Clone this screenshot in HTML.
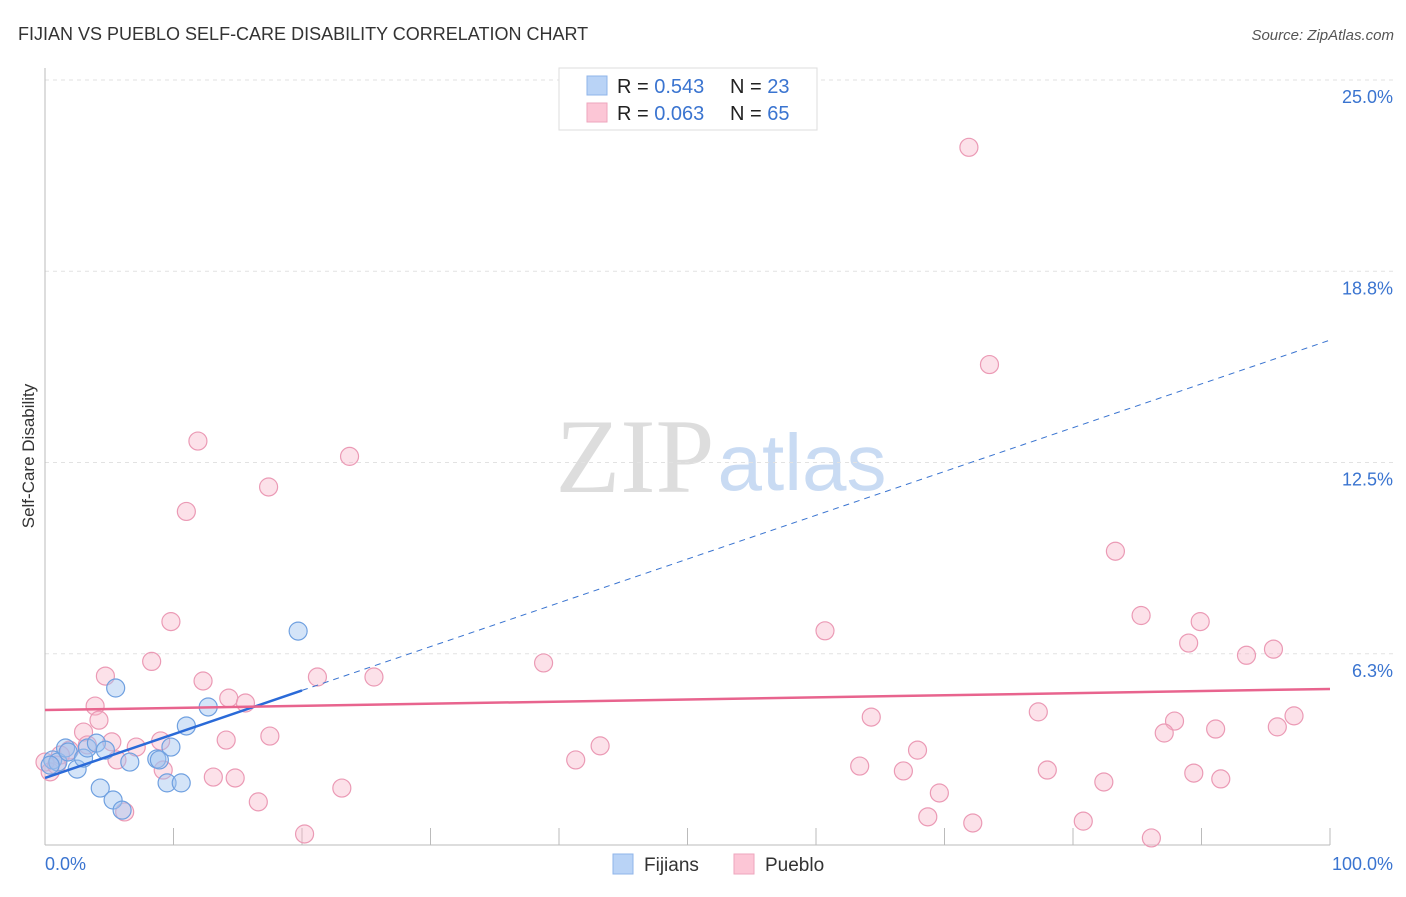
<!DOCTYPE html>
<html><head><meta charset="utf-8"><style>
body{margin:0;background:#fff;font-family:"Liberation Sans",sans-serif;}
</style></head><body>
<svg id="c" width="1406" height="892" xmlns="http://www.w3.org/2000/svg">
<text x="18" y="40" font-size="18" fill="#333">FIJIAN VS PUEBLO SELF-CARE DISABILITY CORRELATION CHART</text>
<text x="1394" y="40" font-size="15" fill="#555" text-anchor="end" font-style="italic">Source: ZipAtlas.com</text>
<g>
<text x="635" y="492" font-size="106" font-family="Liberation Serif,serif" fill="#ddd" text-anchor="middle">ZIP</text>
<text x="802" y="490" font-size="80" fill="#c9dbf3" text-anchor="middle">atlas</text>
</g>
<g id="grid"></g>
<g id="axes"></g>
<g id="pts"></g>
<g id="lines"></g>
<text transform="translate(34,456) rotate(-90)" font-size="17" fill="#333" text-anchor="middle">Self-Care Disability</text>
<g>
<rect x="559" y="68" width="258" height="62" fill="#fff" stroke="#ddd"/>
<rect x="587" y="76" width="20" height="19" fill="#b9d3f6" stroke="#8fb4ea"/>
<rect x="587" y="103" width="20" height="19" fill="#fcc6d6" stroke="#eea6bd"/>
<text x="617" y="93" font-size="20" fill="#222">R = <tspan fill="#3a74d0">0.543</tspan><tspan x="730">N = </tspan><tspan fill="#3a74d0">23</tspan></text>
<text x="617" y="120" font-size="20" fill="#222">R = <tspan fill="#3a74d0">0.063</tspan><tspan x="730">N = </tspan><tspan fill="#3a74d0">65</tspan></text>
</g>
<g>
<rect x="613" y="854" width="20" height="20" fill="#b9d3f6" stroke="#8fb4ea"/>
<text x="644" y="871" font-size="19" fill="#333">Fijians</text>
<rect x="734" y="854" width="20" height="20" fill="#fcc6d6" stroke="#eea6bd"/>
<text x="765" y="871" font-size="19" fill="#333">Pueblo</text>
</g>
</svg>
<script>
const fijX=[0.6,1.0,1.6,1.8,2.5,3.0,3.3,4.0,4.3,4.7,5.3,5.5,6.0,6.6,8.7,8.9,9.5,9.8,10.6,11.0,12.7,19.7,0.4];
const fijY=[2.78,2.71,3.17,3.04,2.48,2.84,3.17,3.33,1.86,3.10,1.47,5.13,1.14,2.71,2.81,2.78,2.03,3.20,2.03,3.89,4.51,6.99,2.61];
const pueX=[71.9,73.5,11.9,23.7,17.4,11.0,83.3,9.8,85.3,89.9,60.7,89.0,95.6,93.5,8.3,38.8,4.7,12.3,21.2,25.6,14.3,15.6,3.9,4.2,64.3,77.3,97.2,87.9,87.1,91.1,95.9,3.0,5.2,9.0,14.1,17.5,43.2,67.9,7.1,1.9,1.2,5.6,41.3,63.4,66.8,78.0,89.4,82.4,91.5,13.1,14.8,9.2,23.1,69.6,16.6,6.2,68.7,72.2,80.8,20.2,86.1,0.0,0.4,0.9,3.3];
const pueY=[22.8,15.7,13.2,12.7,11.7,10.9,9.6,7.3,7.5,7.3,7.0,6.6,6.4,6.2,6.0,5.95,5.52,5.36,5.49,5.49,4.80,4.64,4.54,4.08,4.18,4.35,4.22,4.05,3.66,3.79,3.86,3.69,3.37,3.40,3.43,3.56,3.24,3.10,3.20,3.10,2.94,2.78,2.78,2.58,2.42,2.45,2.35,2.06,2.16,2.22,2.19,2.45,1.86,1.70,1.41,1.08,0.92,0.72,0.78,0.36,0.23,2.71,2.39,2.61,3.27];
const yTicks=[6.25,12.5,18.75,25];
const yTickLabels=["6.3%","12.5%","18.8%","25.0%"];
const xTickLabels=["0.0%","100.0%"];
const fijTrend=[2.19,16.5];
const fijSolidEnd=20;
const pueTrend=[4.41,5.10];
const NS="http://www.w3.org/2000/svg";
const X=v=>45+v*12.85, Y=v=>845-v*30.6;
function mk(t,a,p){const e=document.createElementNS(NS,t);for(const k in a)e.setAttribute(k,a[k]);p.appendChild(e);return e;}
const grid=document.getElementById('grid'),axes=document.getElementById('axes'),pts=document.getElementById('pts'),lines=document.getElementById('lines');
yTicks.forEach((t,i)=>{
 const l=mk('line',{x1:45,x2:1395,y1:Y(t),y2:Y(t),stroke:'#e2e2e2','stroke-dasharray':'4,4'},grid);
 
 
 const tx=mk('text',{x:1393,y:Y(t)+23,'font-size':18,fill:'#3a74d0','text-anchor':'end'},axes);
 tx.textContent=yTickLabels[i];
 
 
});
const ya=mk('line',{x1:45,x2:45,y1:68,y2:845,stroke:'#bbb'},axes);


const xa=mk('line',{x1:45,x2:1330,y1:845,y2:845,stroke:'#bbb'},axes);


for(let k=1;k<=10;k++){
 const t=mk('line',{x1:X(k*10),x2:X(k*10),y1:828,y2:845,stroke:'#bbb'},axes);
 
 
}
[[0,'start',45],[1,'end',1393]].forEach(([i,a,x])=>{
 const t=mk('text',{x:x,y:870,'font-size':18,fill:'#3a74d0','text-anchor':a},axes);
 t.textContent=xTickLabels[i];
 
 
});
pueX.forEach((v,i)=>{
 const c=mk('circle',{cx:X(v),cy:Y(pueY[i]),r:9,fill:'rgba(248,180,200,0.4)',stroke:'#eb9ab5','stroke-width':1.2},pts);
 
 
});
fijX.forEach((v,i)=>{
 const c=mk('circle',{cx:X(v),cy:Y(fijY[i]),r:9,fill:'rgba(160,196,240,0.45)',stroke:'#6fa0e0','stroke-width':1.2},pts);
 
 
});
const fy=x=>fijTrend[0]+(fijTrend[1]-fijTrend[0])*x/100;
const l1=mk('line',{x1:X(fijSolidEnd),y1:Y(fy(fijSolidEnd)),x2:X(100),y2:Y(fy(100)),stroke:'#3a74d0','stroke-width':1,'stroke-dasharray':'6,5'},lines);


const l2=mk('line',{x1:X(0),y1:Y(fy(0)),x2:X(fijSolidEnd),y2:Y(fy(fijSolidEnd)),stroke:'#2a6ad8','stroke-width':2.5},lines);


const l3=mk('line',{x1:X(0),y1:Y(pueTrend[0]),x2:X(100),y2:Y(pueTrend[1]),stroke:'#e8648e','stroke-width':2.5},lines);


</script>
</body></html>
